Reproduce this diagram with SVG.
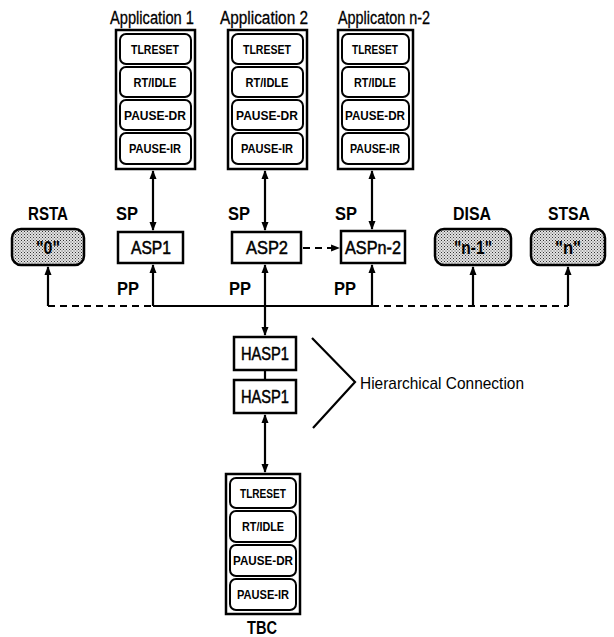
<svg xmlns="http://www.w3.org/2000/svg" width="614" height="637" viewBox="0 0 614 637">
<style>
  .box{fill:#fff;stroke:#000;stroke-width:2.5}
  .inner{fill:#fff;stroke:#000;stroke-width:2}
  .gray{fill:url(#dots);stroke:#000;stroke-width:2.5}
  .ln{fill:none;stroke:#000;stroke-width:2.2}
  .dash{fill:none;stroke:#000;stroke-width:2.2;stroke-dasharray:7 5}
  .t{font-family:"Liberation Sans",Arial,sans-serif;fill:#000;text-anchor:middle}
  .title{font-size:18px;stroke:#000;stroke-width:0.3}
  .lab{font-size:18px;font-weight:bold}
  .small{font-size:13px;font-weight:bold}
  .node{font-size:18px;stroke:#000;stroke-width:0.5}
</style>
<defs>
  <pattern id="dots" width="3" height="3" patternUnits="userSpaceOnUse">
    <rect width="3" height="3" fill="#e2e2e2"/>
    <rect x="0" y="0" width="1" height="1" fill="#333"/>
    <rect x="1.5" y="1.5" width="1" height="1" fill="#555"/>
  </pattern>
  <marker id="ah" viewBox="0 0 10 10" refX="9" refY="5" markerWidth="4" markerHeight="4" orient="auto-start-reverse" markerUnits="strokeWidth">
    <path d="M0,1 L10,5 L0,9 z" fill="#000"/>
  </marker>
</defs>

<g id="app1">
  <text class="t title" x="152" y="24" textLength="84" lengthAdjust="spacingAndGlyphs">Application 1</text>
  <rect class="box" x="116" y="30" width="79" height="139"/>
  <rect class="inner" x="120" y="34" width="71" height="30" rx="6"/>
  <rect class="inner" x="120" y="67" width="71" height="30" rx="6"/>
  <rect class="inner" x="120" y="100" width="71" height="30" rx="6"/>
  <rect class="inner" x="120" y="133" width="71" height="31" rx="6"/>
  <text class="t small" x="155" y="54" textLength="48" lengthAdjust="spacingAndGlyphs">TLRESET</text>
  <text class="t small" x="155" y="87" textLength="43" lengthAdjust="spacingAndGlyphs">RT/IDLE</text>
  <text class="t small" x="155" y="120" textLength="62" lengthAdjust="spacingAndGlyphs">PAUSE-DR</text>
  <text class="t small" x="155" y="153" textLength="52" lengthAdjust="spacingAndGlyphs">PAUSE-IR</text>
</g>
<g id="app2">
  <text class="t title" x="264" y="24" textLength="88" lengthAdjust="spacingAndGlyphs">Application 2</text>
  <rect class="box" x="228" y="30" width="79" height="139"/>
  <rect class="inner" x="232" y="34" width="71" height="30" rx="6"/>
  <rect class="inner" x="232" y="67" width="71" height="30" rx="6"/>
  <rect class="inner" x="232" y="100" width="71" height="30" rx="6"/>
  <rect class="inner" x="232" y="133" width="71" height="31" rx="6"/>
  <text class="t small" x="267" y="54" textLength="48" lengthAdjust="spacingAndGlyphs">TLRESET</text>
  <text class="t small" x="267" y="87" textLength="43" lengthAdjust="spacingAndGlyphs">RT/IDLE</text>
  <text class="t small" x="267" y="120" textLength="62" lengthAdjust="spacingAndGlyphs">PAUSE-DR</text>
  <text class="t small" x="267" y="153" textLength="52" lengthAdjust="spacingAndGlyphs">PAUSE-IR</text>
</g>
<g id="appn2">
  <text class="t title" x="384" y="24" textLength="92" lengthAdjust="spacingAndGlyphs">Applicaton n-2</text>
  <rect class="box" x="338" y="30" width="75" height="139"/>
  <rect class="inner" x="342" y="34" width="67" height="30" rx="6"/>
  <rect class="inner" x="342" y="67" width="67" height="30" rx="6"/>
  <rect class="inner" x="342" y="100" width="67" height="30" rx="6"/>
  <rect class="inner" x="342" y="133" width="67" height="31" rx="6"/>
  <text class="t small" x="375" y="54" textLength="46" lengthAdjust="spacingAndGlyphs">TLRESET</text>
  <text class="t small" x="375" y="87" textLength="42" lengthAdjust="spacingAndGlyphs">RT/IDLE</text>
  <text class="t small" x="375" y="120" textLength="60" lengthAdjust="spacingAndGlyphs">PAUSE-DR</text>
  <text class="t small" x="375" y="153" textLength="50" lengthAdjust="spacingAndGlyphs">PAUSE-IR</text>
</g>

<g id="rsta">
  <text class="t lab" x="48" y="220" textLength="40" lengthAdjust="spacingAndGlyphs">RSTA</text>
  <rect class="gray" x="12" y="229" width="72" height="36" rx="9"/>
  <text class="t lab" x="48" y="254" textLength="24" lengthAdjust="spacingAndGlyphs">"0"</text>
</g>
<g id="asp1">
  <text class="t lab" x="127" y="220" textLength="22" lengthAdjust="spacingAndGlyphs">SP</text>
  <rect class="box" x="118" y="232" width="65" height="31"/>
  <text class="t node" x="151" y="254" textLength="40" lengthAdjust="spacingAndGlyphs">ASP1</text>
  <text class="t lab" x="128" y="295" textLength="22" lengthAdjust="spacingAndGlyphs">PP</text>
</g>
<g id="asp2">
  <text class="t lab" x="239" y="220" textLength="22" lengthAdjust="spacingAndGlyphs">SP</text>
  <rect class="box" x="232" y="232" width="69" height="31"/>
  <text class="t node" x="267" y="254" textLength="42" lengthAdjust="spacingAndGlyphs">ASP2</text>
  <text class="t lab" x="240" y="295" textLength="22" lengthAdjust="spacingAndGlyphs">PP</text>
</g>
<g id="aspn2">
  <text class="t lab" x="346" y="220" textLength="22" lengthAdjust="spacingAndGlyphs">SP</text>
  <rect class="box" x="341" y="231" width="64" height="32"/>
  <text class="t node" x="373" y="254" textLength="56" lengthAdjust="spacingAndGlyphs">ASPn-2</text>
  <text class="t lab" x="345" y="295" textLength="22" lengthAdjust="spacingAndGlyphs">PP</text>
</g>
<g id="disa">
  <text class="t lab" x="472" y="220" textLength="38" lengthAdjust="spacingAndGlyphs">DISA</text>
  <rect class="gray" x="435" y="229" width="76" height="36" rx="9"/>
  <text class="t lab" x="473" y="254" textLength="38" lengthAdjust="spacingAndGlyphs">"n-1"</text>
</g>
<g id="stsa">
  <text class="t lab" x="569" y="220" textLength="42" lengthAdjust="spacingAndGlyphs">STSA</text>
  <rect class="gray" x="531" y="229" width="74" height="36" rx="9"/>
  <text class="t lab" x="568" y="254" textLength="26" lengthAdjust="spacingAndGlyphs">"n"</text>
</g>
<g id="hasp1a">
  <rect class="box" x="234" y="337" width="62" height="33"/>
  <text class="t node" x="265" y="360" textLength="48" lengthAdjust="spacingAndGlyphs">HASP1</text>
</g>
<g id="hasp1b">
  <rect class="box" x="234" y="380" width="62" height="33"/>
  <text class="t node" x="265" y="403" textLength="48" lengthAdjust="spacingAndGlyphs">HASP1</text>
</g>
<g id="tbc">
  <rect class="box" x="226" y="474" width="74" height="140"/>
  <rect class="inner" x="230" y="478" width="66" height="30" rx="6"/>
  <rect class="inner" x="230" y="511" width="66" height="31" rx="6"/>
  <rect class="inner" x="230" y="545" width="66" height="31" rx="6"/>
  <rect class="inner" x="230" y="579" width="66" height="31" rx="6"/>
  <text class="t small" x="263" y="498" textLength="46" lengthAdjust="spacingAndGlyphs">TLRESET</text>
  <text class="t small" x="263" y="531" textLength="42" lengthAdjust="spacingAndGlyphs">RT/IDLE</text>
  <text class="t small" x="263" y="565" textLength="60" lengthAdjust="spacingAndGlyphs">PAUSE-DR</text>
  <text class="t small" x="263" y="599" textLength="52" lengthAdjust="spacingAndGlyphs">PAUSE-IR</text>
  <text class="t lab" x="262" y="634" textLength="30" lengthAdjust="spacingAndGlyphs">TBC</text>
</g>
<g id="hier">
  <path class="ln" d="M312,338 L355,382 L313,428" stroke-width="1.8"/>
  <text class="t" x="442" y="389" font-size="17" textLength="164" lengthAdjust="spacingAndGlyphs">Hierarchical Connection</text>
</g>

<g id="connectors">
  <line class="ln" x1="153" y1="171" x2="153" y2="230" marker-start="url(#ah)" marker-end="url(#ah)"/>
  <line class="ln" x1="265" y1="171" x2="265" y2="230" marker-start="url(#ah)" marker-end="url(#ah)"/>
  <line class="ln" x1="372" y1="171" x2="372" y2="229" marker-start="url(#ah)" marker-end="url(#ah)"/>
  <line class="dash" x1="303" y1="248" x2="339" y2="248" marker-end="url(#ah)"/>
  <line class="dash" x1="48" y1="306" x2="153" y2="306"/>
  <line class="ln" x1="153" y1="306" x2="372" y2="306"/>
  <line class="dash" x1="372" y1="306" x2="568" y2="306"/>
  <line class="ln" x1="48" y1="306" x2="48" y2="267" marker-end="url(#ah)"/>
  <line class="ln" x1="153" y1="306" x2="153" y2="265" marker-end="url(#ah)"/>
  <line class="ln" x1="265" y1="306" x2="265" y2="265" marker-end="url(#ah)"/>
  <line class="ln" x1="372" y1="306" x2="372" y2="265" marker-end="url(#ah)"/>
  <line class="ln" x1="473" y1="306" x2="473" y2="267" marker-end="url(#ah)"/>
  <line class="ln" x1="568" y1="306" x2="568" y2="267" marker-end="url(#ah)"/>
  <line class="ln" x1="265" y1="306" x2="265" y2="335" marker-end="url(#ah)"/>
  <line class="ln" x1="265" y1="370" x2="265" y2="380"/>
  <line class="ln" x1="265" y1="415" x2="265" y2="472" marker-start="url(#ah)" marker-end="url(#ah)"/>
</g>
</svg>
